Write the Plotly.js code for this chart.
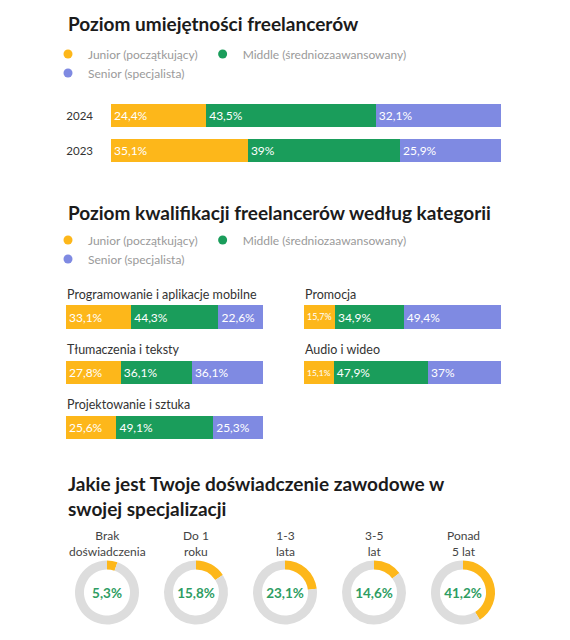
<!DOCTYPE html>
<html><head><meta charset="utf-8">
<script src="https://cdn.plot.ly/plotly-3.0.1.min.js"></script>
<style>html,body{margin:0;padding:0;background:#fff}#chart{width:570px;height:640px}</style>
</head><body><div id="chart"></div>
<script>
// ---- data ----
const levels = ['Junior (początkujący)', 'Middle (średniozaawansowany)', 'Senior (specjalista)'];
const years = ['2024', '2023'];
const juniorByYear = [24.4, 35.1];
const middleByYear = [43.5, 39];
const seniorByYear = [32.1, 25.9];

const categories = ['Programowanie i aplikacje mobilne', 'Promocja', 'Tłumaczenia i teksty', 'Audio i wideo', 'Projektowanie i sztuka'];
const juniorByCategory = [33.1, 15.7, 27.8, 15.1, 25.6];
const middleByCategory = [44.3, 34.9, 36.1, 47.9, 49.1];
const seniorByCategory = [22.6, 49.4, 36.1, 37, 25.3];

const experienceLabels = ['Brak<br>doświadczenia', 'Do 1<br>roku', '1-3<br>lata', '3-5<br>lat', 'Ponad<br>5 lat'];
const experienceShares = [5.3, 15.8, 23.1, 14.6, 41.2];

const titles = ['Poziom umiejętności freelancerów', 'Poziom kwalifikacji freelancerów według kategorii', 'Jakie jest Twoje doświadczenie zawodowe w<br>swojej specjalizacji'];

// ---- style ----
const COLORS = ['#FDB71A', '#1A9D5B', '#7F8AE2'];
const GRAY = '#DDDDDD';
const FONT = 'Lato, "Open Sans", sans-serif';
const W = 570, H = 640, ML = 45, MR = 60;
const GW = W - ML - MR;
const px = x => (x - ML) / GW;
const py = y => 1 - y / H;
const fmt = v => String(v).replace('.', ',') + '%';

const series = [
  [juniorByYear, juniorByCategory],
  [middleByYear, middleByCategory],
  [seniorByYear, seniorByCategory]
];

const traces = [];
const layout = {
  width: W, height: H,
  margin: {l: ML, r: MR, t: 0, b: 0, pad: 0},
  paper_bgcolor: '#fff', plot_bgcolor: 'rgba(0,0,0,0)',
  barmode: 'stack', bargap: 0.34,
  font: {family: FONT, color: '#333'},
  showlegend: true,
  annotations: []
};

function barTrace(vals, cats, i, xa, ya) {
  return {
    type: 'bar', orientation: 'h', x: vals, y: cats,
    xaxis: xa, yaxis: ya,
    marker: {color: COLORS[i], line: {width: 0}},
    text: vals.map(fmt), textposition: 'inside', insidetextanchor: 'start',
    constraintext: 'inside',
    textfont: {family: FONT, size: 12, color: '#ffffff'},
    hoverinfo: 'skip', showlegend: false
  };
}

// chart 1: years
series.forEach((s, i) => traces.push(barTrace(s[0], years, i, 'x', 'y')));
layout.xaxis = {domain: [px(111), px(501)], range: [0, 100], visible: false, fixedrange: true};
layout.yaxis = {domain: [py(168), py(98)], autorange: 'reversed', type: 'category',
  showgrid: false, zeroline: false, showline: false, ticks: '',
  ticklabelstandoff: 17, tickfont: {family: FONT, size: 11.5, color: '#333'}, fixedrange: true};

// chart 2: categories (2 columns)
const colX = [[66, 263], [304, 501]];
const rowY = [317, 372.5, 427.5];
categories.forEach((cat, k) => {
  const col = k % 2, row = Math.floor(k / 2);
  const n = k + 2;
  series.forEach((s, i) => traces.push(barTrace([s[1][k]], [cat], i, 'x' + n, 'y' + n)));
  layout['xaxis' + n] = {domain: [px(colX[col][0]), px(colX[col][1])], range: [0, 100], visible: false, fixedrange: true};
  layout['yaxis' + n] = {domain: [py(rowY[row] + 17.5), py(rowY[row] - 17.5)], visible: false, type: 'category', fixedrange: true};
  layout.annotations.push({
    text: cat, xref: 'paper', yref: 'paper', x: px(colX[col][0] - 1), y: py(rowY[row] - 23),
    xanchor: 'left', yanchor: 'middle', showarrow: false,
    font: {family: FONT, size: 12.5, color: '#333'}
  });
});

// legend dummies (circle symbols): row 1 = Junior, Middle ; row 2 = Senior
const legendRows = [['legend', 'legend2'], ['legend3', 'legend4']];
levels.forEach((name, i) => {
  legendRows.forEach(pair => traces.push({
    type: 'scatter', mode: 'markers', x: [null], y: [null], name: name,
    legend: i < 2 ? pair[0] : pair[1],
    marker: {color: COLORS[i], size: 9, symbol: 'circle'}, hoverinfo: 'skip', showlegend: true
  }));
});
const legendBase = {
  orientation: 'h', xanchor: 'left', yanchor: 'top', x: px(48), traceorder: 'normal',
  bgcolor: 'rgba(0,0,0,0)', borderwidth: 0,
  font: {family: FONT, size: 12, color: '#9a9a9a'}, itemclick: false, itemdoubleclick: false,
  tracegroupgap: 0
};
layout.legend = Object.assign({}, legendBase, {y: py(39.5)});
layout.legend2 = Object.assign({}, legendBase, {y: py(58.5)});
layout.legend3 = Object.assign({}, legendBase, {y: py(225.5)});
layout.legend4 = Object.assign({}, legendBase, {y: py(244.5)});

// chart 3: donuts
const donutX = [107, 196, 285, 374, 463];
const donutY = 592.5, R = 32;
experienceShares.forEach((v, k) => {
  traces.push({
    type: 'pie', values: [v, 100 - v], labels: ['tak', 'reszta'],
    sort: false, direction: 'clockwise', rotation: 0, hole: 0.72,
    marker: {colors: [COLORS[0], GRAY], line: {width: 0}},
    textinfo: 'none', hoverinfo: 'skip', showlegend: false,
    domain: {x: [px(donutX[k] - R), px(donutX[k] + R)], y: [py(donutY + R), py(donutY - R)]},
    title: {text: fmt(v), position: 'middle center', font: {family: FONT, size: 13.5, weight: 700, color: '#2E9D63'}}
  });
  layout.annotations.push({
    text: experienceLabels[k], xref: 'paper', yref: 'paper', x: px(donutX[k]), y: py(543),
    xanchor: 'center', yanchor: 'middle', align: 'center', showarrow: false,
    font: {family: FONT, size: 12, color: '#444'}
  });
});

// titles
[[titles[0], 24], [titles[1], 212], [titles[2], 496]].forEach(([t, y]) => layout.annotations.push({
  text: t, xref: 'paper', yref: 'paper', x: px(66), y: py(y), xanchor: 'left', yanchor: 'middle',
  align: 'left', showarrow: false,
  font: {family: FONT, size: 19, weight: 700, color: '#1b1b1b'}
}));

Plotly.newPlot('chart', traces, layout, {displayModeBar: false});
</script></body></html>
